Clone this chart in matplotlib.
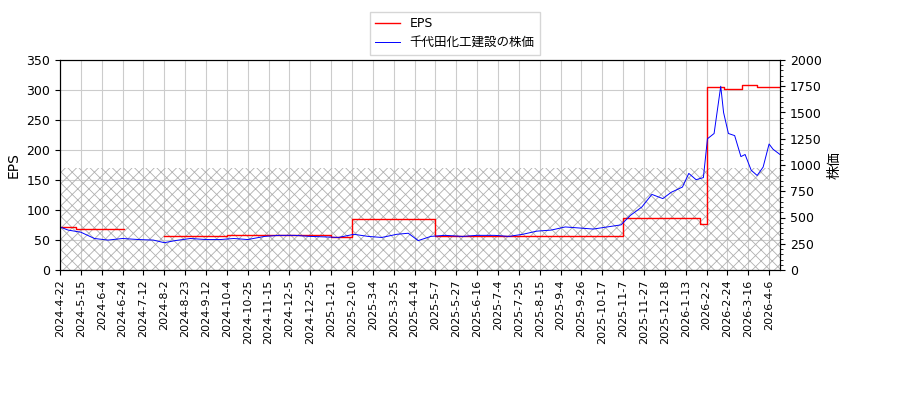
import matplotlib
matplotlib.use("Agg")
import matplotlib.pyplot as plt
import numpy as np
import pandas as pd
from matplotlib.ticker import AutoMinorLocator

plt.rcParams['font.family'] = ['DejaVu Sans', 'Noto Sans CJK JP']
plt.rcParams['hatch.linewidth'] = 0.6

# EPS step levels (start date, value)
eps_dates = ["2024-4-22", "2024-5-10", "2024-6-25", "2024-8-2", "2024-10-4",
             "2025-1-21", "2025-2-10", "2025-5-7", "2025-11-7", "2026-1-27",
             "2026-2-3", "2026-2-20", "2026-3-10", "2026-3-25", "2026-4-17"]
eps_vals = [72, 69, None, 57, 58, 55, 85, 57, 87, 77, 305, 301, 308, 305, 307]

# stock price readings
price_dates = ["2024-4-22", "2024-5-1", "2024-5-15", "2024-5-28", "2024-6-10", "2024-6-24",
               "2024-7-8", "2024-7-22", "2024-8-2", "2024-8-13", "2024-8-28", "2024-9-12",
               "2024-9-27", "2024-10-11", "2024-10-25", "2024-11-11", "2024-11-25",
               "2024-12-10", "2024-12-25", "2025-1-14", "2025-1-28", "2025-2-12",
               "2025-2-27", "2025-3-13", "2025-3-28", "2025-4-8", "2025-4-18", "2025-5-2",
               "2025-5-16", "2025-6-2", "2025-6-16", "2025-7-1", "2025-7-15", "2025-7-29",
               "2025-8-12", "2025-8-26", "2025-9-9", "2025-9-24", "2025-10-8", "2025-10-22",
               "2025-11-5", "2025-11-14", "2025-11-25", "2025-12-5", "2025-12-16",
               "2025-12-26", "2026-1-9", "2026-1-16", "2026-1-23", "2026-1-30", "2026-2-3",
               "2026-2-10", "2026-2-17", "2026-2-20", "2026-2-25", "2026-3-3", "2026-3-9",
               "2026-3-13", "2026-3-19", "2026-3-25", "2026-3-31", "2026-4-6", "2026-4-10",
               "2026-4-17"]
price_vals = [410, 380, 360, 300, 285, 300, 290, 285, 260, 280, 300, 290,
              290, 300, 290, 320, 330, 330, 320, 315, 310, 340,
              320, 310, 340, 350, 280, 320, 330, 320, 330, 330, 320, 340,
              370, 380, 410, 400, 390, 410,
              430, 520, 600, 720, 680,
              740, 790, 920, 860, 880, 1250,
              1300, 1750, 1500, 1300, 1280, 1080,
              1100, 950, 900, 980, 1200, 1150,
              1100]

tick_labels = ["2024-4-22", "2024-5-15", "2024-6-4", "2024-6-24", "2024-7-12", "2024-8-2",
               "2024-8-23", "2024-9-12", "2024-10-4", "2024-10-25", "2024-11-15", "2024-12-5",
               "2024-12-25", "2025-1-21", "2025-2-10", "2025-3-4", "2025-3-25", "2025-4-14",
               "2025-5-7", "2025-5-27", "2025-6-16", "2025-7-4", "2025-7-25", "2025-8-15",
               "2025-9-4", "2025-9-26", "2025-10-17", "2025-11-7", "2025-11-27", "2025-12-18",
               "2026-1-13", "2026-2-2", "2026-2-24", "2026-3-16", "2026-4-6"]

# map dates onto evenly spaced tick positions (trading-day axis)
tk_ord = pd.to_datetime(tick_labels).map(pd.Timestamp.toordinal).to_numpy()
tk_pos = np.arange(len(tick_labels), dtype=float)


def pos(dates):
    o = pd.to_datetime(dates).map(pd.Timestamp.toordinal).to_numpy()
    return np.interp(o, tk_ord, tk_pos, left=None, right=None) + \
        np.where(o > tk_ord[-1], (o - tk_ord[-1]) / 21.0, 0)


ed = pos(eps_dates)
px = pos(price_dates)

fig = plt.figure(figsize=(9, 4), dpi=100)
ax = fig.add_axes([60 / 900, 130 / 400, 720 / 900, 210 / 400])
ax2 = ax.twinx()

ax.set_xlim(ed[0], ed[-1])
ax.fill_between([ed[0], ed[-1]], 0, 170, facecolor="none", edgecolor="#b0b0b0",
                hatch="xxx", linewidth=0)

# draw EPS segments as steps
xs, ys = [], []
for i in range(len(eps_vals) - 1):
    if eps_vals[i] is None:
        if xs:
            ax.plot(xs, ys, color="red", lw=1)
        xs, ys = [], []
        continue
    xs += [ed[i], ed[i + 1]]
    ys += [eps_vals[i], eps_vals[i]]
l1, = ax.plot(xs, ys, color="red", lw=1, label="EPS")

l2, = ax2.plot(px, price_vals, color="blue", lw=0.7, label="千代田化工建設の株価")

ax.set_ylim(0, 350)
ax2.set_ylim(0, 2000)
ax.set_ylabel("EPS")
ax2.set_ylabel("株価")
ax.set_xticks(tk_pos)
ax.set_xticklabels(tick_labels, rotation=90, fontsize=8)
ax.tick_params(axis="y", labelsize=9)
ax2.tick_params(axis="y", labelsize=9)
ax2.yaxis.set_minor_locator(AutoMinorLocator(5))
ax.grid(True, color="#cccccc")
ax.set_axisbelow(True)

fig.legend([l1, l2], ["EPS", "千代田化工建設の株価"], loc="upper center",
           bbox_to_anchor=(0.505, 0.985), fontsize=9, fancybox=False)
fig.savefig("out.png")
